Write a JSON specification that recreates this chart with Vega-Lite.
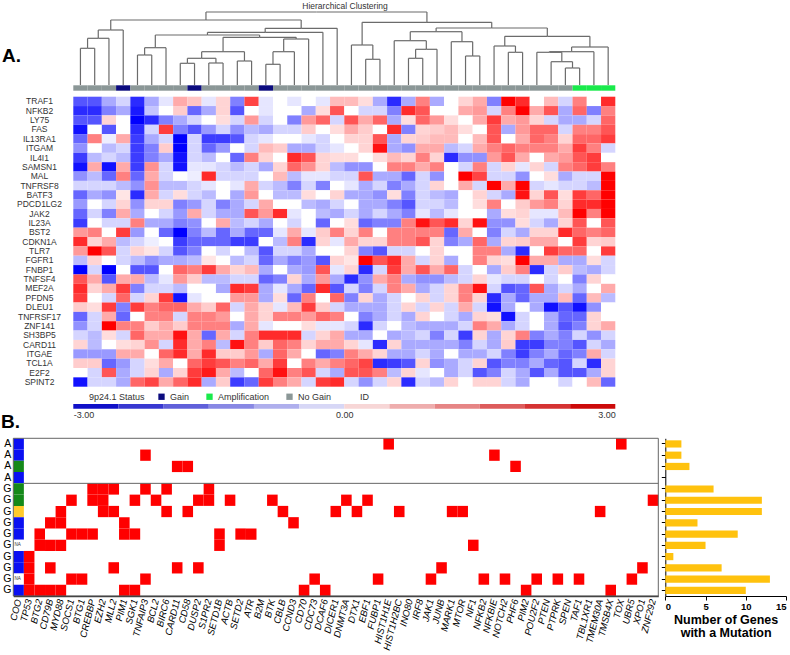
{
"$schema":"https://vega.github.io/schema/vega-lite/v6.json",
"width":790,"height":655,"autosize":{"type":"none"},"padding":0,
"config":{"view":{"stroke":null},"font":"Liberation Sans","axis":{"grid":false}},
"resolve":{"scale":{"x":"independent","y":"independent","color":"independent"}},
"datasets":{
"dendro":[
{"pos":0.5,"ht":0,"ppos":1,"pht":36.7},{"pos":1.5,"ht":0,"ppos":1,"pht":36.7},{"pos":2.5,"ht":0,"ppos":1.75,"pht":46.7},{"pos":3.5,"ht":0,"ppos":2.625,"pht":55},{"pos":4.5,"ht":0,"ppos":5,"pht":30},{"pos":5.5,"ht":0,"ppos":5,"pht":30},{"pos":6.5,"ht":0,"ppos":5.75,"pht":37.3},{"pos":7.5,"ht":0,"ppos":8,"pht":21.7},{"pos":8.5,"ht":0,"ppos":8,"pht":21.7},{"pos":9.5,"ht":0,"ppos":10,"pht":22},{"pos":10.5,"ht":0,"ppos":10,"pht":22},{"pos":11.5,"ht":0,"ppos":12,"pht":24},{"pos":12.5,"ht":0,"ppos":12,"pht":24},{"pos":13.5,"ht":0,"ppos":14,"pht":20.7},{"pos":14.5,"ht":0,"ppos":14,"pht":20.7},{"pos":15.5,"ht":0,"ppos":14.75,"pht":33.3},{"pos":16.5,"ht":0,"ppos":15.625,"pht":46},{"pos":17.5,"ht":0,"ppos":13.453,"pht":52.7},{"pos":18.5,"ht":0,"ppos":15.977,"pht":56.7},{"pos":19.5,"ht":0,"ppos":20.25,"pht":40},{"pos":20.5,"ht":0,"ppos":21,"pht":25.7},{"pos":21.5,"ht":0,"ppos":21,"pht":25.7},{"pos":22.5,"ht":0,"ppos":23.625,"pht":44.3},{"pos":23.5,"ht":0,"ppos":24,"pht":26.7},{"pos":24.5,"ht":0,"ppos":24,"pht":26.7},{"pos":25.5,"ht":0,"ppos":24.75,"pht":35.7},{"pos":26.5,"ht":0,"ppos":27.25,"pht":43.3},{"pos":27.5,"ht":0,"ppos":28,"pht":29},{"pos":28.5,"ht":0,"ppos":28,"pht":29},{"pos":29.5,"ht":0,"ppos":30.25,"pht":39},{"pos":30.5,"ht":0,"ppos":31,"pht":32.7},{"pos":31.5,"ht":0,"ppos":31,"pht":32.7},{"pos":32.5,"ht":0,"ppos":33.375,"pht":32.7},{"pos":33.5,"ht":0,"ppos":34.25,"pht":23.3},{"pos":34.5,"ht":0,"ppos":35,"pht":17},{"pos":35.5,"ht":0,"ppos":35,"pht":17},{"pos":36.5,"ht":0,"ppos":34.938,"pht":33.3},{"pos":37.5,"ht":0,"ppos":36.219,"pht":38},
{"pos":1,"ht":36.7,"ppos":1.75,"pht":46.7},{"pos":1.75,"ht":46.7,"ppos":2.625,"pht":55},{"pos":2.625,"ht":55,"ppos":9.301,"pht":65},{"pos":5,"ht":30,"ppos":5.75,"pht":37.3},{"pos":5.75,"ht":37.3,"ppos":9.406,"pht":50},{"pos":8,"ht":21.7,"ppos":9,"pht":26.7},{"pos":10,"ht":22,"ppos":9,"pht":26.7},{"pos":9,"ht":26.7,"ppos":10.5,"pht":33.3},{"pos":12,"ht":24,"ppos":10.5,"pht":33.3},{"pos":10.5,"ht":33.3,"ppos":13.063,"pht":47.7},{"pos":14,"ht":20.7,"ppos":14.75,"pht":33.3},{"pos":14.75,"ht":33.3,"ppos":15.625,"pht":46},{"pos":15.625,"ht":46,"ppos":13.063,"pht":47.7},{"pos":13.063,"ht":47.7,"ppos":9.406,"pht":50},{"pos":9.406,"ht":50,"ppos":13.453,"pht":52.7},{"pos":13.453,"ht":52.7,"ppos":15.977,"pht":56.7},{"pos":15.977,"ht":56.7,"ppos":9.301,"pht":65},{"pos":9.301,"ht":65,"ppos":17.047,"pht":73},
{"pos":21,"ht":25.7,"ppos":20.25,"pht":40},{"pos":20.25,"ht":40,"ppos":24.793,"pht":62.7},{"pos":24,"ht":26.7,"ppos":24.75,"pht":35.7},{"pos":24.75,"ht":35.7,"ppos":23.625,"pht":44.3},{"pos":23.625,"ht":44.3,"ppos":25.438,"pht":53.3},{"pos":28,"ht":29,"ppos":27.25,"pht":43.3},{"pos":27.25,"ht":43.3,"ppos":25.438,"pht":53.3},{"pos":25.438,"ht":53.3,"ppos":29.336,"pht":57},{"pos":31,"ht":32.7,"ppos":30.25,"pht":39},{"pos":30.25,"ht":39,"ppos":33.234,"pht":48.7},{"pos":35,"ht":17,"ppos":34.25,"pht":23.3},{"pos":34.25,"ht":23.3,"ppos":33.375,"pht":32.7},{"pos":33.375,"ht":32.7,"ppos":34.938,"pht":33.3},{"pos":34.938,"ht":33.3,"ppos":36.219,"pht":38},{"pos":36.219,"ht":38,"ppos":33.234,"pht":48.7},{"pos":33.234,"ht":48.7,"ppos":29.336,"pht":57},{"pos":29.336,"ht":57,"ppos":24.793,"pht":62.7},{"pos":24.793,"ht":62.7,"ppos":17.047,"pht":73}
],
"status":[
{"s":1,"st":"No Gain"},{"s":2,"st":"No Gain"},{"s":3,"st":"No Gain"},{"s":4,"st":"Gain"},{"s":5,"st":"No Gain"},{"s":6,"st":"No Gain"},{"s":7,"st":"No Gain"},{"s":8,"st":"No Gain"},{"s":9,"st":"Gain"},{"s":10,"st":"No Gain"},{"s":11,"st":"No Gain"},{"s":12,"st":"No Gain"},{"s":13,"st":"No Gain"},{"s":14,"st":"Gain"},{"s":15,"st":"No Gain"},{"s":16,"st":"No Gain"},{"s":17,"st":"No Gain"},{"s":18,"st":"No Gain"},{"s":19,"st":"No Gain"},{"s":20,"st":"No Gain"},{"s":21,"st":"No Gain"},{"s":22,"st":"No Gain"},{"s":23,"st":"No Gain"},{"s":24,"st":"No Gain"},{"s":25,"st":"No Gain"},{"s":26,"st":"No Gain"},{"s":27,"st":"No Gain"},{"s":28,"st":"No Gain"},{"s":29,"st":"No Gain"},{"s":30,"st":"No Gain"},{"s":31,"st":"No Gain"},{"s":32,"st":"No Gain"},{"s":33,"st":"No Gain"},{"s":34,"st":"No Gain"},{"s":35,"st":"No Gain"},{"s":36,"st":"Amplification"},{"s":37,"st":"Amplification"},{"s":38,"st":"Amplification"}
],
"cbar":[
{"lo":-3,"hi":-2.5,"lev":-3},{"lo":-2.5,"hi":-2,"lev":-2.5},{"lo":-2,"hi":-1.5,"lev":-2},{"lo":-1.5,"hi":-1,"lev":-1.5},{"lo":-1,"hi":-0.5,"lev":-1},{"lo":-0.5,"hi":0,"lev":-0.5},{"lo":0,"hi":0.5,"lev":0.5},{"lo":0.5,"hi":1,"lev":1},{"lo":1,"hi":1.5,"lev":1.5},{"lo":1.5,"hi":2,"lev":2},{"lo":2,"hi":2.5,"lev":2.5},{"lo":2.5,"hi":3,"lev":3}
],
"coo":[
{"id":"A1","gene":"COO","coo":"GCB"},{"id":"A2","gene":"COO","coo":"GCB"},{"id":"A3","gene":"COO","coo":"ABC"},{"id":"A4","gene":"COO","coo":"GCB"},{"id":"G1","gene":"COO","coo":"ABC"},{"id":"G2","gene":"COO","coo":"ABC"},{"id":"G3","gene":"COO","coo":"Unclassified"},{"id":"G4","gene":"COO","coo":"GCB"},{"id":"G5","gene":"COO","coo":"GCB"},{"id":"G6","gene":"COO","coo":"NA"},{"id":"G7","gene":"COO","coo":"GCB"},{"id":"G8","gene":"COO","coo":"GCB"},{"id":"G9","gene":"COO","coo":"NA"},{"id":"G10","gene":"COO","coo":"GCB"}
],
"mut":[
{"id":"A1","gene":"HIST1H1E"},{"id":"A1","gene":"TOX"},
{"id":"A2","gene":"TNFAIP3"},{"id":"A2","gene":"NFKBIE"},
{"id":"A3","gene":"CARD11"},{"id":"A3","gene":"CD58"},{"id":"A3","gene":"PHF6"},
{"id":"G1","gene":"CREBBP"},{"id":"G1","gene":"EZH2"},{"id":"G1","gene":"MLL2"},{"id":"G1","gene":"TNFAIP3"},{"id":"G1","gene":"BIRC6"},{"id":"G1","gene":"S1PR2"},
{"id":"G2","gene":"SOCS1"},{"id":"G2","gene":"CREBBP"},{"id":"G2","gene":"EZH2"},{"id":"G2","gene":"SGK1"},{"id":"G2","gene":"BCL2"},{"id":"G2","gene":"DUSP2"},{"id":"G2","gene":"S1PR2"},{"id":"G2","gene":"ACTB"},{"id":"G2","gene":"BTK"},{"id":"G2","gene":"DNMT3A"},{"id":"G2","gene":"EBF1"},{"id":"G2","gene":"ZNF292"},
{"id":"G3","gene":"MYD88"},{"id":"G3","gene":"EZH2"},{"id":"G3","gene":"MLL2"},{"id":"G3","gene":"BIRC6"},{"id":"G3","gene":"CD58"},{"id":"G3","gene":"CBLB"},{"id":"G3","gene":"DICER1"},{"id":"G3","gene":"DTX1"},{"id":"G3","gene":"HIST1H2BC"},{"id":"G3","gene":"MARK1"},{"id":"G3","gene":"MTOR"},{"id":"G3","gene":"TMEM30A"},
{"id":"G4","gene":"CD79B"},{"id":"G4","gene":"MYD88"},{"id":"G4","gene":"PIM1"},{"id":"G4","gene":"CCND3"},
{"id":"G5","gene":"BTG2"},{"id":"G5","gene":"SOCS1"},{"id":"G5","gene":"BTG1"},{"id":"G5","gene":"CREBBP"},{"id":"G5","gene":"PIM1"},{"id":"G5","gene":"SGK1"},{"id":"G5","gene":"SETD1B"},{"id":"G5","gene":"SETD2"},{"id":"G5","gene":"ATR"},
{"id":"G6","gene":"BTG2"},{"id":"G6","gene":"CD79B"},{"id":"G6","gene":"MYD88"},{"id":"G6","gene":"SETD1B"},{"id":"G6","gene":"NF1"},
{"id":"G7","gene":"TP53"},
{"id":"G8","gene":"TP53"},{"id":"G8","gene":"CD79B"},{"id":"G8","gene":"MLL2"},{"id":"G8","gene":"CARD11"},{"id":"G8","gene":"DUSP2"},{"id":"G8","gene":"JUNB"},{"id":"G8","gene":"XPO1"},
{"id":"G9","gene":"TP53"},{"id":"G9","gene":"SOCS1"},{"id":"G9","gene":"BTG1"},{"id":"G9","gene":"TNFAIP3"},{"id":"G9","gene":"CDC73"},{"id":"G9","gene":"FUBP1"},{"id":"G9","gene":"JAK1"},{"id":"G9","gene":"NFKB2"},{"id":"G9","gene":"NOTCH2"},{"id":"G9","gene":"POU2F2"},{"id":"G9","gene":"PTPRK"},{"id":"G9","gene":"TAF1"},{"id":"G9","gene":"UBR5"},
{"id":"G10","gene":"TP53"},{"id":"G10","gene":"BTG2"},{"id":"G10","gene":"CD79B"},{"id":"G10","gene":"MYD88"},{"id":"G10","gene":"PIM1"},{"id":"G10","gene":"SGK1"},{"id":"G10","gene":"CD70"},{"id":"G10","gene":"DCAF6"},{"id":"G10","gene":"PIM2"},{"id":"G10","gene":"TMSB4X"}
],
"heat":[
{"g":"TRAF1","s":1,"v":-2},{"g":"TRAF1","s":2,"v":-2},{"g":"TRAF1","s":3,"v":-1},{"g":"TRAF1","s":4,"v":-0.5},{"g":"TRAF1","s":5,"v":-2.5},{"g":"TRAF1","s":6,"v":-1},{"g":"TRAF1","s":7,"v":-0.3},{"g":"TRAF1","s":8,"v":1},{"g":"TRAF1","s":9,"v":0.7},{"g":"TRAF1","s":10,"v":-0.3},{"g":"TRAF1","s":11,"v":0.5},{"g":"TRAF1","s":12,"v":-1.5},{"g":"TRAF1","s":13,"v":2.2},{"g":"TRAF1","s":14,"v":-0.3},{"g":"TRAF1","s":15,"v":0},{"g":"TRAF1","s":16,"v":-0.3},{"g":"TRAF1","s":17,"v":0},{"g":"TRAF1","s":18,"v":-0.3},{"g":"TRAF1","s":19,"v":0.8},{"g":"TRAF1","s":20,"v":0.8},{"g":"TRAF1","s":21,"v":0.4},{"g":"TRAF1","s":22,"v":-1},{"g":"TRAF1","s":23,"v":-2.5},{"g":"TRAF1","s":24,"v":-1},{"g":"TRAF1","s":25,"v":1.5},{"g":"TRAF1","s":26,"v":-1},{"g":"TRAF1","s":27,"v":0},{"g":"TRAF1","s":28,"v":0.5},{"g":"TRAF1","s":29,"v":1},{"g":"TRAF1","s":30,"v":-1.5},{"g":"TRAF1","s":31,"v":3},{"g":"TRAF1","s":32,"v":2.5},{"g":"TRAF1","s":33,"v":0},{"g":"TRAF1","s":34,"v":0.8},{"g":"TRAF1","s":35,"v":-0.5},{"g":"TRAF1","s":36,"v":1.5},{"g":"TRAF1","s":37,"v":0},{"g":"TRAF1","s":38,"v":2.5},
{"g":"NFKB2","s":1,"v":-2.5},{"g":"NFKB2","s":2,"v":-2.5},{"g":"NFKB2","s":3,"v":-1.5},{"g":"NFKB2","s":4,"v":-1},{"g":"NFKB2","s":5,"v":-2.7},{"g":"NFKB2","s":6,"v":-0.7},{"g":"NFKB2","s":7,"v":0},{"g":"NFKB2","s":8,"v":0.6},{"g":"NFKB2","s":9,"v":-1.8},{"g":"NFKB2","s":10,"v":-1},{"g":"NFKB2","s":11,"v":0.5},{"g":"NFKB2","s":12,"v":-2},{"g":"NFKB2","s":13,"v":0},{"g":"NFKB2","s":14,"v":-0.3},{"g":"NFKB2","s":15,"v":0},{"g":"NFKB2","s":16,"v":0},{"g":"NFKB2","s":17,"v":-1},{"g":"NFKB2","s":18,"v":0.4},{"g":"NFKB2","s":19,"v":2},{"g":"NFKB2","s":20,"v":0},{"g":"NFKB2","s":21,"v":-0.5},{"g":"NFKB2","s":22,"v":-0.5},{"g":"NFKB2","s":23,"v":-1.5},{"g":"NFKB2","s":24,"v":2.5},{"g":"NFKB2","s":25,"v":2},{"g":"NFKB2","s":26,"v":0},{"g":"NFKB2","s":27,"v":0},{"g":"NFKB2","s":28,"v":1},{"g":"NFKB2","s":29,"v":1.2},{"g":"NFKB2","s":30,"v":-0.5},{"g":"NFKB2","s":31,"v":1.5},{"g":"NFKB2","s":32,"v":3},{"g":"NFKB2","s":33,"v":1},{"g":"NFKB2","s":34,"v":2},{"g":"NFKB2","s":35,"v":-1},{"g":"NFKB2","s":36,"v":1.8},{"g":"NFKB2","s":37,"v":-1.5},{"g":"NFKB2","s":38,"v":1.5},
{"g":"LY75","s":1,"v":-2},{"g":"LY75","s":2,"v":-2},{"g":"LY75","s":3,"v":0.5},{"g":"LY75","s":4,"v":0},{"g":"LY75","s":5,"v":-3},{"g":"LY75","s":6,"v":-2.5},{"g":"LY75","s":7,"v":-1.5},{"g":"LY75","s":8,"v":-1},{"g":"LY75","s":9,"v":-0.5},{"g":"LY75","s":10,"v":0},{"g":"LY75","s":11,"v":0.4},{"g":"LY75","s":12,"v":-0.5},{"g":"LY75","s":13,"v":1.2},{"g":"LY75","s":14,"v":-0.5},{"g":"LY75","s":15,"v":0},{"g":"LY75","s":16,"v":-1.5},{"g":"LY75","s":17,"v":1.2},{"g":"LY75","s":18,"v":1.8},{"g":"LY75","s":19,"v":-0.5},{"g":"LY75","s":20,"v":2},{"g":"LY75","s":21,"v":1},{"g":"LY75","s":22,"v":1.8},{"g":"LY75","s":23,"v":-1},{"g":"LY75","s":24,"v":0.4},{"g":"LY75","s":25,"v":1.8},{"g":"LY75","s":26,"v":1.2},{"g":"LY75","s":27,"v":0.4},{"g":"LY75","s":28,"v":0},{"g":"LY75","s":29,"v":1},{"g":"LY75","s":30,"v":2.3},{"g":"LY75","s":31,"v":1},{"g":"LY75","s":32,"v":1.2},{"g":"LY75","s":33,"v":0.5},{"g":"LY75","s":34,"v":-0.5},{"g":"LY75","s":35,"v":-1},{"g":"LY75","s":36,"v":-1},{"g":"LY75","s":37,"v":-0.5},{"g":"LY75","s":38,"v":1.8},
{"g":"FAS","s":1,"v":-2.8},{"g":"FAS","s":2,"v":0},{"g":"FAS","s":3,"v":-2},{"g":"FAS","s":4,"v":0},{"g":"FAS","s":5,"v":-2.5},{"g":"FAS","s":6,"v":-0.5},{"g":"FAS","s":7,"v":2.3},{"g":"FAS","s":8,"v":-1.5},{"g":"FAS","s":9,"v":-2},{"g":"FAS","s":10,"v":-1.2},{"g":"FAS","s":11,"v":-0.5},{"g":"FAS","s":12,"v":-1.3},{"g":"FAS","s":13,"v":-0.8},{"g":"FAS","s":14,"v":-1},{"g":"FAS","s":15,"v":-0.5},{"g":"FAS","s":16,"v":-0.5},{"g":"FAS","s":17,"v":0.6},{"g":"FAS","s":18,"v":0},{"g":"FAS","s":19,"v":0.4},{"g":"FAS","s":20,"v":1},{"g":"FAS","s":21,"v":0.6},{"g":"FAS","s":22,"v":0},{"g":"FAS","s":23,"v":2.5},{"g":"FAS","s":24,"v":-1.5},{"g":"FAS","s":25,"v":0.5},{"g":"FAS","s":26,"v":0.6},{"g":"FAS","s":27,"v":0.8},{"g":"FAS","s":28,"v":0.4},{"g":"FAS","s":29,"v":0},{"g":"FAS","s":30,"v":2},{"g":"FAS","s":31,"v":-1},{"g":"FAS","s":32,"v":1.2},{"g":"FAS","s":33,"v":1.8},{"g":"FAS","s":34,"v":1.8},{"g":"FAS","s":35,"v":-0.5},{"g":"FAS","s":36,"v":1.5},{"g":"FAS","s":37,"v":1.5},{"g":"FAS","s":38,"v":2},
{"g":"IL13RA1","s":1,"v":-1.8},{"g":"IL13RA1","s":2,"v":1.5},{"g":"IL13RA1","s":3,"v":-0.2},{"g":"IL13RA1","s":4,"v":1},{"g":"IL13RA1","s":5,"v":-2.3},{"g":"IL13RA1","s":6,"v":-1},{"g":"IL13RA1","s":7,"v":-0.5},{"g":"IL13RA1","s":8,"v":-3},{"g":"IL13RA1","s":9,"v":-0.5},{"g":"IL13RA1","s":10,"v":-2.3},{"g":"IL13RA1","s":11,"v":-2.3},{"g":"IL13RA1","s":12,"v":-2},{"g":"IL13RA1","s":13,"v":-0.5},{"g":"IL13RA1","s":14,"v":-0.3},{"g":"IL13RA1","s":15,"v":0},{"g":"IL13RA1","s":16,"v":0},{"g":"IL13RA1","s":17,"v":-0.3},{"g":"IL13RA1","s":18,"v":-0.5},{"g":"IL13RA1","s":19,"v":0},{"g":"IL13RA1","s":20,"v":0.5},{"g":"IL13RA1","s":21,"v":0.5},{"g":"IL13RA1","s":22,"v":2},{"g":"IL13RA1","s":23,"v":-1},{"g":"IL13RA1","s":24,"v":0.5},{"g":"IL13RA1","s":25,"v":0.6},{"g":"IL13RA1","s":26,"v":0.8},{"g":"IL13RA1","s":27,"v":0.8},{"g":"IL13RA1","s":28,"v":0},{"g":"IL13RA1","s":29,"v":0.8},{"g":"IL13RA1","s":30,"v":2},{"g":"IL13RA1","s":31,"v":0},{"g":"IL13RA1","s":32,"v":1},{"g":"IL13RA1","s":33,"v":1.8},{"g":"IL13RA1","s":34,"v":1.5},{"g":"IL13RA1","s":35,"v":0.5},{"g":"IL13RA1","s":36,"v":1.8},{"g":"IL13RA1","s":37,"v":1.8},{"g":"IL13RA1","s":38,"v":2.3},
{"g":"ITGAM","s":1,"v":-1.3},{"g":"ITGAM","s":2,"v":0},{"g":"ITGAM","s":3,"v":-0.8},{"g":"ITGAM","s":4,"v":-0.5},{"g":"ITGAM","s":5,"v":-2.3},{"g":"ITGAM","s":6,"v":-1.5},{"g":"ITGAM","s":7,"v":0.6},{"g":"ITGAM","s":8,"v":-3},{"g":"ITGAM","s":9,"v":-0.5},{"g":"ITGAM","s":10,"v":-1.8},{"g":"ITGAM","s":11,"v":-1.2},{"g":"ITGAM","s":12,"v":0},{"g":"ITGAM","s":13,"v":-0.5},{"g":"ITGAM","s":14,"v":0.8},{"g":"ITGAM","s":15,"v":0.6},{"g":"ITGAM","s":16,"v":-1},{"g":"ITGAM","s":17,"v":-1},{"g":"ITGAM","s":18,"v":-0.5},{"g":"ITGAM","s":19,"v":-0.3},{"g":"ITGAM","s":20,"v":0},{"g":"ITGAM","s":21,"v":0.5},{"g":"ITGAM","s":22,"v":2.8},{"g":"ITGAM","s":23,"v":-1},{"g":"ITGAM","s":24,"v":-1.3},{"g":"ITGAM","s":25,"v":1},{"g":"ITGAM","s":26,"v":1},{"g":"ITGAM","s":27,"v":-0.8},{"g":"ITGAM","s":28,"v":-0.5},{"g":"ITGAM","s":29,"v":1},{"g":"ITGAM","s":30,"v":1.5},{"g":"ITGAM","s":31,"v":1.8},{"g":"ITGAM","s":32,"v":1.5},{"g":"ITGAM","s":33,"v":1.5},{"g":"ITGAM","s":34,"v":1.5},{"g":"ITGAM","s":35,"v":1},{"g":"ITGAM","s":36,"v":2.3},{"g":"ITGAM","s":37,"v":1.5},{"g":"ITGAM","s":38,"v":-0.5},
{"g":"IL4I1","s":1,"v":-2.3},{"g":"IL4I1","s":2,"v":-0.8},{"g":"IL4I1","s":3,"v":-0.5},{"g":"IL4I1","s":4,"v":-0.8},{"g":"IL4I1","s":5,"v":-2.3},{"g":"IL4I1","s":6,"v":-1.5},{"g":"IL4I1","s":7,"v":-1},{"g":"IL4I1","s":8,"v":-2.8},{"g":"IL4I1","s":9,"v":-0.5},{"g":"IL4I1","s":10,"v":-0.8},{"g":"IL4I1","s":11,"v":0},{"g":"IL4I1","s":12,"v":-1.8},{"g":"IL4I1","s":13,"v":1.5},{"g":"IL4I1","s":14,"v":0.5},{"g":"IL4I1","s":15,"v":0},{"g":"IL4I1","s":16,"v":2.5},{"g":"IL4I1","s":17,"v":2},{"g":"IL4I1","s":18,"v":0.5},{"g":"IL4I1","s":19,"v":0.4},{"g":"IL4I1","s":20,"v":0.4},{"g":"IL4I1","s":21,"v":0},{"g":"IL4I1","s":22,"v":0.4},{"g":"IL4I1","s":23,"v":0.8},{"g":"IL4I1","s":24,"v":0.5},{"g":"IL4I1","s":25,"v":1.5},{"g":"IL4I1","s":26,"v":0.5},{"g":"IL4I1","s":27,"v":-2.5},{"g":"IL4I1","s":28,"v":-1.3},{"g":"IL4I1","s":29,"v":-1.3},{"g":"IL4I1","s":30,"v":1.2},{"g":"IL4I1","s":31,"v":2},{"g":"IL4I1","s":32,"v":1},{"g":"IL4I1","s":33,"v":0},{"g":"IL4I1","s":34,"v":1},{"g":"IL4I1","s":35,"v":1.2},{"g":"IL4I1","s":36,"v":2},{"g":"IL4I1","s":37,"v":2.3},{"g":"IL4I1","s":38,"v":0},
{"g":"SAMSN1","s":1,"v":-2.8},{"g":"SAMSN1","s":2,"v":1},{"g":"SAMSN1","s":3,"v":-2.8},{"g":"SAMSN1","s":4,"v":1},{"g":"SAMSN1","s":5,"v":-2.3},{"g":"SAMSN1","s":6,"v":1.3},{"g":"SAMSN1","s":7,"v":-0.5},{"g":"SAMSN1","s":8,"v":-2.8},{"g":"SAMSN1","s":9,"v":-0.3},{"g":"SAMSN1","s":10,"v":-0.3},{"g":"SAMSN1","s":11,"v":-0.5},{"g":"SAMSN1","s":12,"v":-0.8},{"g":"SAMSN1","s":13,"v":-0.5},{"g":"SAMSN1","s":14,"v":-1},{"g":"SAMSN1","s":15,"v":0.5},{"g":"SAMSN1","s":16,"v":1.8},{"g":"SAMSN1","s":17,"v":1.3},{"g":"SAMSN1","s":18,"v":0.5},{"g":"SAMSN1","s":19,"v":-0.8},{"g":"SAMSN1","s":20,"v":-1.3},{"g":"SAMSN1","s":21,"v":-1.3},{"g":"SAMSN1","s":22,"v":0},{"g":"SAMSN1","s":23,"v":1.5},{"g":"SAMSN1","s":24,"v":1.5},{"g":"SAMSN1","s":25,"v":1},{"g":"SAMSN1","s":26,"v":1.5},{"g":"SAMSN1","s":27,"v":0},{"g":"SAMSN1","s":28,"v":-0.5},{"g":"SAMSN1","s":29,"v":1.5},{"g":"SAMSN1","s":30,"v":-0.5},{"g":"SAMSN1","s":31,"v":0.5},{"g":"SAMSN1","s":32,"v":-0.3},{"g":"SAMSN1","s":33,"v":0.5},{"g":"SAMSN1","s":34,"v":-0.5},{"g":"SAMSN1","s":35,"v":1.5},{"g":"SAMSN1","s":36,"v":1.8},{"g":"SAMSN1","s":37,"v":2.3},{"g":"SAMSN1","s":38,"v":1.5},
{"g":"MAL","s":1,"v":-1.3},{"g":"MAL","s":2,"v":-0.8},{"g":"MAL","s":3,"v":-1.8},{"g":"MAL","s":4,"v":1.5},{"g":"MAL","s":5,"v":-1.8},{"g":"MAL","s":6,"v":1},{"g":"MAL","s":7,"v":-0.5},{"g":"MAL","s":8,"v":0},{"g":"MAL","s":9,"v":-0.2},{"g":"MAL","s":10,"v":2.5},{"g":"MAL","s":11,"v":-0.5},{"g":"MAL","s":12,"v":-0.5},{"g":"MAL","s":13,"v":-0.5},{"g":"MAL","s":14,"v":0},{"g":"MAL","s":15,"v":0.8},{"g":"MAL","s":16,"v":-0.8},{"g":"MAL","s":17,"v":-0.3},{"g":"MAL","s":18,"v":-0.3},{"g":"MAL","s":19,"v":-0.5},{"g":"MAL","s":20,"v":-0.5},{"g":"MAL","s":21,"v":2},{"g":"MAL","s":22,"v":-1},{"g":"MAL","s":23,"v":-1},{"g":"MAL","s":24,"v":-1.8},{"g":"MAL","s":25,"v":-0.5},{"g":"MAL","s":26,"v":-1.3},{"g":"MAL","s":27,"v":0},{"g":"MAL","s":28,"v":3},{"g":"MAL","s":29,"v":2.2},{"g":"MAL","s":30,"v":-0.5},{"g":"MAL","s":31,"v":-0.5},{"g":"MAL","s":32,"v":-1.3},{"g":"MAL","s":33,"v":0},{"g":"MAL","s":34,"v":0.4},{"g":"MAL","s":35,"v":-1},{"g":"MAL","s":36,"v":-0.5},{"g":"MAL","s":37,"v":-0.5},{"g":"MAL","s":38,"v":3},
{"g":"TNFRSF8","s":1,"v":-0.5},{"g":"TNFRSF8","s":2,"v":-0.5},{"g":"TNFRSF8","s":3,"v":-0.5},{"g":"TNFRSF8","s":4,"v":-0.8},{"g":"TNFRSF8","s":5,"v":-1.3},{"g":"TNFRSF8","s":6,"v":1.3},{"g":"TNFRSF8","s":7,"v":-0.8},{"g":"TNFRSF8","s":8,"v":-0.8},{"g":"TNFRSF8","s":9,"v":-0.5},{"g":"TNFRSF8","s":10,"v":-0.3},{"g":"TNFRSF8","s":11,"v":0},{"g":"TNFRSF8","s":12,"v":-0.3},{"g":"TNFRSF8","s":13,"v":1},{"g":"TNFRSF8","s":14,"v":-0.5},{"g":"TNFRSF8","s":15,"v":-0.8},{"g":"TNFRSF8","s":16,"v":-1.5},{"g":"TNFRSF8","s":17,"v":-0.5},{"g":"TNFRSF8","s":18,"v":-1.5},{"g":"TNFRSF8","s":19,"v":0},{"g":"TNFRSF8","s":20,"v":-0.3},{"g":"TNFRSF8","s":21,"v":-1},{"g":"TNFRSF8","s":22,"v":-0.5},{"g":"TNFRSF8","s":23,"v":-1.5},{"g":"TNFRSF8","s":24,"v":-1},{"g":"TNFRSF8","s":25,"v":-0.5},{"g":"TNFRSF8","s":26,"v":0.5},{"g":"TNFRSF8","s":27,"v":0},{"g":"TNFRSF8","s":28,"v":1},{"g":"TNFRSF8","s":29,"v":-0.5},{"g":"TNFRSF8","s":30,"v":3},{"g":"TNFRSF8","s":31,"v":1},{"g":"TNFRSF8","s":32,"v":3},{"g":"TNFRSF8","s":33,"v":-0.5},{"g":"TNFRSF8","s":34,"v":-0.3},{"g":"TNFRSF8","s":35,"v":-0.5},{"g":"TNFRSF8","s":36,"v":-0.5},{"g":"TNFRSF8","s":37,"v":-0.8},{"g":"TNFRSF8","s":38,"v":3},
{"g":"BATF3","s":1,"v":-1.8},{"g":"BATF3","s":2,"v":-1},{"g":"BATF3","s":3,"v":-1.3},{"g":"BATF3","s":4,"v":0.3},{"g":"BATF3","s":5,"v":-2.5},{"g":"BATF3","s":6,"v":1},{"g":"BATF3","s":7,"v":-0.5},{"g":"BATF3","s":8,"v":0.4},{"g":"BATF3","s":9,"v":-0.5},{"g":"BATF3","s":10,"v":-0.8},{"g":"BATF3","s":11,"v":0},{"g":"BATF3","s":12,"v":-1},{"g":"BATF3","s":13,"v":1.2},{"g":"BATF3","s":14,"v":0},{"g":"BATF3","s":15,"v":-0.8},{"g":"BATF3","s":16,"v":-0.8},{"g":"BATF3","s":17,"v":0.4},{"g":"BATF3","s":18,"v":0},{"g":"BATF3","s":19,"v":0.5},{"g":"BATF3","s":20,"v":-1},{"g":"BATF3","s":21,"v":-1},{"g":"BATF3","s":22,"v":-1.3},{"g":"BATF3","s":23,"v":0.4},{"g":"BATF3","s":24,"v":-1.5},{"g":"BATF3","s":25,"v":-0.5},{"g":"BATF3","s":26,"v":-0.8},{"g":"BATF3","s":27,"v":-1},{"g":"BATF3","s":28,"v":0},{"g":"BATF3","s":29,"v":0.5},{"g":"BATF3","s":30,"v":-0.5},{"g":"BATF3","s":31,"v":-1},{"g":"BATF3","s":32,"v":2.8},{"g":"BATF3","s":33,"v":0.5},{"g":"BATF3","s":34,"v":2},{"g":"BATF3","s":35,"v":0.4},{"g":"BATF3","s":36,"v":2.3},{"g":"BATF3","s":37,"v":1.8},{"g":"BATF3","s":38,"v":3},
{"g":"PDCD1LG2","s":1,"v":-1.2},{"g":"PDCD1LG2","s":2,"v":0},{"g":"PDCD1LG2","s":3,"v":-0.5},{"g":"PDCD1LG2","s":4,"v":0.5},{"g":"PDCD1LG2","s":5,"v":-1.3},{"g":"PDCD1LG2","s":6,"v":0.5},{"g":"PDCD1LG2","s":7,"v":0.5},{"g":"PDCD1LG2","s":8,"v":-1.5},{"g":"PDCD1LG2","s":9,"v":-1.2},{"g":"PDCD1LG2","s":10,"v":-0.5},{"g":"PDCD1LG2","s":11,"v":-1.5},{"g":"PDCD1LG2","s":12,"v":-1},{"g":"PDCD1LG2","s":13,"v":-0.5},{"g":"PDCD1LG2","s":14,"v":1},{"g":"PDCD1LG2","s":15,"v":0},{"g":"PDCD1LG2","s":16,"v":0},{"g":"PDCD1LG2","s":17,"v":-0.8},{"g":"PDCD1LG2","s":18,"v":-1},{"g":"PDCD1LG2","s":19,"v":-0.5},{"g":"PDCD1LG2","s":20,"v":0},{"g":"PDCD1LG2","s":21,"v":-1},{"g":"PDCD1LG2","s":22,"v":-1},{"g":"PDCD1LG2","s":23,"v":-1.5},{"g":"PDCD1LG2","s":24,"v":-2},{"g":"PDCD1LG2","s":25,"v":-0.5},{"g":"PDCD1LG2","s":26,"v":-0.5},{"g":"PDCD1LG2","s":27,"v":-0.8},{"g":"PDCD1LG2","s":28,"v":0},{"g":"PDCD1LG2","s":29,"v":0.4},{"g":"PDCD1LG2","s":30,"v":1.5},{"g":"PDCD1LG2","s":31,"v":0},{"g":"PDCD1LG2","s":32,"v":0.6},{"g":"PDCD1LG2","s":33,"v":1.2},{"g":"PDCD1LG2","s":34,"v":1.5},{"g":"PDCD1LG2","s":35,"v":0.5},{"g":"PDCD1LG2","s":36,"v":2.5},{"g":"PDCD1LG2","s":37,"v":2.5},{"g":"PDCD1LG2","s":38,"v":3},
{"g":"JAK2","s":1,"v":-1.8},{"g":"JAK2","s":2,"v":-0.5},{"g":"JAK2","s":3,"v":-1.5},{"g":"JAK2","s":4,"v":1},{"g":"JAK2","s":5,"v":-1},{"g":"JAK2","s":6,"v":0},{"g":"JAK2","s":7,"v":-0.5},{"g":"JAK2","s":8,"v":-1.2},{"g":"JAK2","s":9,"v":1},{"g":"JAK2","s":10,"v":-0.5},{"g":"JAK2","s":11,"v":-1},{"g":"JAK2","s":12,"v":-1},{"g":"JAK2","s":13,"v":2},{"g":"JAK2","s":14,"v":1.2},{"g":"JAK2","s":15,"v":2.5},{"g":"JAK2","s":16,"v":-0.3},{"g":"JAK2","s":17,"v":0},{"g":"JAK2","s":18,"v":-0.8},{"g":"JAK2","s":19,"v":-1},{"g":"JAK2","s":20,"v":-0.5},{"g":"JAK2","s":21,"v":-1},{"g":"JAK2","s":22,"v":-0.5},{"g":"JAK2","s":23,"v":-1},{"g":"JAK2","s":24,"v":-1.5},{"g":"JAK2","s":25,"v":-0.3},{"g":"JAK2","s":26,"v":-0.8},{"g":"JAK2","s":27,"v":-0.3},{"g":"JAK2","s":28,"v":0},{"g":"JAK2","s":29,"v":0},{"g":"JAK2","s":30,"v":-1},{"g":"JAK2","s":31,"v":0.4},{"g":"JAK2","s":32,"v":0.5},{"g":"JAK2","s":33,"v":-0.3},{"g":"JAK2","s":34,"v":-0.3},{"g":"JAK2","s":35,"v":0.8},{"g":"JAK2","s":36,"v":3},{"g":"JAK2","s":37,"v":1.5},{"g":"JAK2","s":38,"v":3},
{"g":"IL23A","s":1,"v":-2.3},{"g":"IL23A","s":2,"v":0},{"g":"IL23A","s":3,"v":-0.5},{"g":"IL23A","s":4,"v":-0.5},{"g":"IL23A","s":5,"v":1.5},{"g":"IL23A","s":6,"v":-1},{"g":"IL23A","s":7,"v":-1},{"g":"IL23A","s":8,"v":-1.5},{"g":"IL23A","s":9,"v":-1.3},{"g":"IL23A","s":10,"v":0},{"g":"IL23A","s":11,"v":1},{"g":"IL23A","s":12,"v":-0.8},{"g":"IL23A","s":13,"v":-0.5},{"g":"IL23A","s":14,"v":-1},{"g":"IL23A","s":15,"v":0},{"g":"IL23A","s":16,"v":-0.5},{"g":"IL23A","s":17,"v":0},{"g":"IL23A","s":18,"v":-1.8},{"g":"IL23A","s":19,"v":0},{"g":"IL23A","s":20,"v":0.4},{"g":"IL23A","s":21,"v":-1.8},{"g":"IL23A","s":22,"v":-1.5},{"g":"IL23A","s":23,"v":-1.5},{"g":"IL23A","s":24,"v":1.5},{"g":"IL23A","s":25,"v":2.8},{"g":"IL23A","s":26,"v":2},{"g":"IL23A","s":27,"v":2.5},{"g":"IL23A","s":28,"v":0.5},{"g":"IL23A","s":29,"v":2.8},{"g":"IL23A","s":30,"v":-1.3},{"g":"IL23A","s":31,"v":-1.3},{"g":"IL23A","s":32,"v":0.4},{"g":"IL23A","s":33,"v":-0.5},{"g":"IL23A","s":34,"v":-1},{"g":"IL23A","s":35,"v":0.5},{"g":"IL23A","s":36,"v":2},{"g":"IL23A","s":37,"v":0},{"g":"IL23A","s":38,"v":2},
{"g":"BST2","s":1,"v":1.2},{"g":"BST2","s":2,"v":1.5},{"g":"BST2","s":3,"v":0},{"g":"BST2","s":4,"v":2.3},{"g":"BST2","s":5,"v":-1.2},{"g":"BST2","s":6,"v":0},{"g":"BST2","s":7,"v":-1.8},{"g":"BST2","s":8,"v":-3},{"g":"BST2","s":9,"v":-1.5},{"g":"BST2","s":10,"v":-0.8},{"g":"BST2","s":11,"v":-1.8},{"g":"BST2","s":12,"v":-1},{"g":"BST2","s":13,"v":-1.8},{"g":"BST2","s":14,"v":-1.8},{"g":"BST2","s":15,"v":-0.3},{"g":"BST2","s":16,"v":1},{"g":"BST2","s":17,"v":-0.3},{"g":"BST2","s":18,"v":0.6},{"g":"BST2","s":19,"v":1.5},{"g":"BST2","s":20,"v":0.5},{"g":"BST2","s":21,"v":1.5},{"g":"BST2","s":22,"v":0},{"g":"BST2","s":23,"v":1.5},{"g":"BST2","s":24,"v":1.5},{"g":"BST2","s":25,"v":1.5},{"g":"BST2","s":26,"v":1.5},{"g":"BST2","s":27,"v":-1.8},{"g":"BST2","s":28,"v":1},{"g":"BST2","s":29,"v":0},{"g":"BST2","s":30,"v":-1.5},{"g":"BST2","s":31,"v":-0.5},{"g":"BST2","s":32,"v":-1},{"g":"BST2","s":33,"v":0.5},{"g":"BST2","s":34,"v":0.5},{"g":"BST2","s":35,"v":2.5},{"g":"BST2","s":36,"v":1.8},{"g":"BST2","s":37,"v":1.5},{"g":"BST2","s":38,"v":1.8},
{"g":"CDKN1A","s":1,"v":2.5},{"g":"CDKN1A","s":2,"v":0.5},{"g":"CDKN1A","s":3,"v":1},{"g":"CDKN1A","s":4,"v":-0.8},{"g":"CDKN1A","s":5,"v":-0.5},{"g":"CDKN1A","s":6,"v":-0.2},{"g":"CDKN1A","s":7,"v":0},{"g":"CDKN1A","s":8,"v":-2.3},{"g":"CDKN1A","s":9,"v":-1.8},{"g":"CDKN1A","s":10,"v":-1.8},{"g":"CDKN1A","s":11,"v":-1.8},{"g":"CDKN1A","s":12,"v":-2.3},{"g":"CDKN1A","s":13,"v":-2.3},{"g":"CDKN1A","s":14,"v":0},{"g":"CDKN1A","s":15,"v":-0.8},{"g":"CDKN1A","s":16,"v":1.5},{"g":"CDKN1A","s":17,"v":-2.5},{"g":"CDKN1A","s":18,"v":0.5},{"g":"CDKN1A","s":19,"v":-0.3},{"g":"CDKN1A","s":20,"v":1},{"g":"CDKN1A","s":21,"v":0.5},{"g":"CDKN1A","s":22,"v":0.5},{"g":"CDKN1A","s":23,"v":1.5},{"g":"CDKN1A","s":24,"v":1.5},{"g":"CDKN1A","s":25,"v":2},{"g":"CDKN1A","s":26,"v":0.5},{"g":"CDKN1A","s":27,"v":-1.5},{"g":"CDKN1A","s":28,"v":-1},{"g":"CDKN1A","s":29,"v":1.8},{"g":"CDKN1A","s":30,"v":-1},{"g":"CDKN1A","s":31,"v":0.5},{"g":"CDKN1A","s":32,"v":0.6},{"g":"CDKN1A","s":33,"v":1},{"g":"CDKN1A","s":34,"v":1},{"g":"CDKN1A","s":35,"v":0},{"g":"CDKN1A","s":36,"v":2.3},{"g":"CDKN1A","s":37,"v":0.5},{"g":"CDKN1A","s":38,"v":0.6},
{"g":"TLR7","s":1,"v":1.2},{"g":"TLR7","s":2,"v":3},{"g":"TLR7","s":3,"v":2},{"g":"TLR7","s":4,"v":-0.5},{"g":"TLR7","s":5,"v":0.5},{"g":"TLR7","s":6,"v":0.3},{"g":"TLR7","s":7,"v":-0.5},{"g":"TLR7","s":8,"v":-2},{"g":"TLR7","s":9,"v":-1.5},{"g":"TLR7","s":10,"v":0},{"g":"TLR7","s":11,"v":-0.5},{"g":"TLR7","s":12,"v":0},{"g":"TLR7","s":13,"v":-0.8},{"g":"TLR7","s":14,"v":-2},{"g":"TLR7","s":15,"v":-0.5},{"g":"TLR7","s":16,"v":-0.5},{"g":"TLR7","s":17,"v":-1},{"g":"TLR7","s":18,"v":0},{"g":"TLR7","s":19,"v":0},{"g":"TLR7","s":20,"v":0.5},{"g":"TLR7","s":21,"v":-1.5},{"g":"TLR7","s":22,"v":-2},{"g":"TLR7","s":23,"v":-0.5},{"g":"TLR7","s":24,"v":-0.5},{"g":"TLR7","s":25,"v":0},{"g":"TLR7","s":26,"v":0.5},{"g":"TLR7","s":27,"v":0},{"g":"TLR7","s":28,"v":0},{"g":"TLR7","s":29,"v":1.5},{"g":"TLR7","s":30,"v":1.5},{"g":"TLR7","s":31,"v":-1},{"g":"TLR7","s":32,"v":-2.5},{"g":"TLR7","s":33,"v":0},{"g":"TLR7","s":34,"v":2.3},{"g":"TLR7","s":35,"v":1.8},{"g":"TLR7","s":36,"v":1.8},{"g":"TLR7","s":37,"v":0},{"g":"TLR7","s":38,"v":2.3},
{"g":"FGFR1","s":1,"v":-0.8},{"g":"FGFR1","s":2,"v":0.5},{"g":"FGFR1","s":3,"v":0},{"g":"FGFR1","s":4,"v":-0.5},{"g":"FGFR1","s":5,"v":-0.8},{"g":"FGFR1","s":6,"v":-1.3},{"g":"FGFR1","s":7,"v":-1},{"g":"FGFR1","s":8,"v":-1},{"g":"FGFR1","s":9,"v":-0.8},{"g":"FGFR1","s":10,"v":0.3},{"g":"FGFR1","s":11,"v":0},{"g":"FGFR1","s":12,"v":-0.8},{"g":"FGFR1","s":13,"v":-0.5},{"g":"FGFR1","s":14,"v":-1.8},{"g":"FGFR1","s":15,"v":-1},{"g":"FGFR1","s":16,"v":-1.5},{"g":"FGFR1","s":17,"v":-1.2},{"g":"FGFR1","s":18,"v":-2},{"g":"FGFR1","s":19,"v":0.5},{"g":"FGFR1","s":20,"v":0.3},{"g":"FGFR1","s":21,"v":3},{"g":"FGFR1","s":22,"v":2},{"g":"FGFR1","s":23,"v":2.5},{"g":"FGFR1","s":24,"v":1},{"g":"FGFR1","s":25,"v":-0.5},{"g":"FGFR1","s":26,"v":0.5},{"g":"FGFR1","s":27,"v":-1},{"g":"FGFR1","s":28,"v":0},{"g":"FGFR1","s":29,"v":1.5},{"g":"FGFR1","s":30,"v":0.5},{"g":"FGFR1","s":31,"v":0.4},{"g":"FGFR1","s":32,"v":3},{"g":"FGFR1","s":33,"v":1},{"g":"FGFR1","s":34,"v":1},{"g":"FGFR1","s":35,"v":-1},{"g":"FGFR1","s":36,"v":-1},{"g":"FGFR1","s":37,"v":0.4},{"g":"FGFR1","s":38,"v":-0.5},
{"g":"FNBP1","s":1,"v":-3},{"g":"FNBP1","s":2,"v":-0.5},{"g":"FNBP1","s":3,"v":-3},{"g":"FNBP1","s":4,"v":0},{"g":"FNBP1","s":5,"v":-2},{"g":"FNBP1","s":6,"v":-2},{"g":"FNBP1","s":7,"v":0},{"g":"FNBP1","s":8,"v":1.8},{"g":"FNBP1","s":9,"v":1.5},{"g":"FNBP1","s":10,"v":2.3},{"g":"FNBP1","s":11,"v":1},{"g":"FNBP1","s":12,"v":0.5},{"g":"FNBP1","s":13,"v":0.8},{"g":"FNBP1","s":14,"v":-1},{"g":"FNBP1","s":15,"v":0},{"g":"FNBP1","s":16,"v":-1},{"g":"FNBP1","s":17,"v":-1.2},{"g":"FNBP1","s":18,"v":2},{"g":"FNBP1","s":19,"v":-0.3},{"g":"FNBP1","s":20,"v":0.5},{"g":"FNBP1","s":21,"v":-2.5},{"g":"FNBP1","s":22,"v":-0.5},{"g":"FNBP1","s":23,"v":2.3},{"g":"FNBP1","s":24,"v":1},{"g":"FNBP1","s":25,"v":2},{"g":"FNBP1","s":26,"v":1},{"g":"FNBP1","s":27,"v":1.8},{"g":"FNBP1","s":28,"v":-0.5},{"g":"FNBP1","s":29,"v":0},{"g":"FNBP1","s":30,"v":-1},{"g":"FNBP1","s":31,"v":0.6},{"g":"FNBP1","s":32,"v":1.5},{"g":"FNBP1","s":33,"v":-2.5},{"g":"FNBP1","s":34,"v":-0.5},{"g":"FNBP1","s":35,"v":0.6},{"g":"FNBP1","s":36,"v":-0.8},{"g":"FNBP1","s":37,"v":-1},{"g":"FNBP1","s":38,"v":-0.5},
{"g":"TNFSF4","s":1,"v":2},{"g":"TNFSF4","s":2,"v":1},{"g":"TNFSF4","s":3,"v":-2},{"g":"TNFSF4","s":4,"v":1},{"g":"TNFSF4","s":5,"v":1},{"g":"TNFSF4","s":6,"v":-0.8},{"g":"TNFSF4","s":7,"v":-0.3},{"g":"TNFSF4","s":8,"v":1.2},{"g":"TNFSF4","s":9,"v":0.6},{"g":"TNFSF4","s":10,"v":-0.8},{"g":"TNFSF4","s":11,"v":-0.8},{"g":"TNFSF4","s":12,"v":-0.5},{"g":"TNFSF4","s":13,"v":-0.5},{"g":"TNFSF4","s":14,"v":-1.8},{"g":"TNFSF4","s":15,"v":-1.5},{"g":"TNFSF4","s":16,"v":0.5},{"g":"TNFSF4","s":17,"v":-1},{"g":"TNFSF4","s":18,"v":1.2},{"g":"TNFSF4","s":19,"v":-1},{"g":"TNFSF4","s":20,"v":-2.5},{"g":"TNFSF4","s":21,"v":-1.3},{"g":"TNFSF4","s":22,"v":1},{"g":"TNFSF4","s":23,"v":1.5},{"g":"TNFSF4","s":24,"v":-1},{"g":"TNFSF4","s":25,"v":-1.3},{"g":"TNFSF4","s":26,"v":-1.3},{"g":"TNFSF4","s":27,"v":-0.8},{"g":"TNFSF4","s":28,"v":-0.5},{"g":"TNFSF4","s":29,"v":0.5},{"g":"TNFSF4","s":30,"v":-0.3},{"g":"TNFSF4","s":31,"v":-0.5},{"g":"TNFSF4","s":32,"v":-0.5},{"g":"TNFSF4","s":33,"v":0},{"g":"TNFSF4","s":34,"v":-0.5},{"g":"TNFSF4","s":35,"v":0},{"g":"TNFSF4","s":36,"v":-1.5},{"g":"TNFSF4","s":37,"v":0.5},{"g":"TNFSF4","s":38,"v":0},
{"g":"MEF2A","s":1,"v":2.5},{"g":"MEF2A","s":2,"v":0.5},{"g":"MEF2A","s":3,"v":1},{"g":"MEF2A","s":4,"v":2.3},{"g":"MEF2A","s":5,"v":-1.5},{"g":"MEF2A","s":6,"v":-0.5},{"g":"MEF2A","s":7,"v":-0.5},{"g":"MEF2A","s":8,"v":-0.8},{"g":"MEF2A","s":9,"v":0},{"g":"MEF2A","s":10,"v":0},{"g":"MEF2A","s":11,"v":-1},{"g":"MEF2A","s":12,"v":2.5},{"g":"MEF2A","s":13,"v":2.3},{"g":"MEF2A","s":14,"v":-1},{"g":"MEF2A","s":15,"v":-0.3},{"g":"MEF2A","s":16,"v":-1},{"g":"MEF2A","s":17,"v":-1.8},{"g":"MEF2A","s":18,"v":2.5},{"g":"MEF2A","s":19,"v":-2},{"g":"MEF2A","s":20,"v":-0.5},{"g":"MEF2A","s":21,"v":-1.5},{"g":"MEF2A","s":22,"v":-0.5},{"g":"MEF2A","s":23,"v":1.5},{"g":"MEF2A","s":24,"v":1},{"g":"MEF2A","s":25,"v":-1},{"g":"MEF2A","s":26,"v":-0.5},{"g":"MEF2A","s":27,"v":0.5},{"g":"MEF2A","s":28,"v":1.5},{"g":"MEF2A","s":29,"v":2.8},{"g":"MEF2A","s":30,"v":-0.5},{"g":"MEF2A","s":31,"v":-2},{"g":"MEF2A","s":32,"v":-1.8},{"g":"MEF2A","s":33,"v":2},{"g":"MEF2A","s":34,"v":-1},{"g":"MEF2A","s":35,"v":-0.5},{"g":"MEF2A","s":36,"v":-1},{"g":"MEF2A","s":37,"v":0},{"g":"MEF2A","s":38,"v":1},
{"g":"PFDN5","s":1,"v":2.3},{"g":"PFDN5","s":2,"v":0},{"g":"PFDN5","s":3,"v":-0.5},{"g":"PFDN5","s":4,"v":1.8},{"g":"PFDN5","s":5,"v":-0.5},{"g":"PFDN5","s":6,"v":0.5},{"g":"PFDN5","s":7,"v":2.3},{"g":"PFDN5","s":8,"v":-2.8},{"g":"PFDN5","s":9,"v":-0.3},{"g":"PFDN5","s":10,"v":0},{"g":"PFDN5","s":11,"v":0},{"g":"PFDN5","s":12,"v":1.2},{"g":"PFDN5","s":13,"v":1.2},{"g":"PFDN5","s":14,"v":-1},{"g":"PFDN5","s":15,"v":0.4},{"g":"PFDN5","s":16,"v":-1.8},{"g":"PFDN5","s":17,"v":1.5},{"g":"PFDN5","s":18,"v":0},{"g":"PFDN5","s":19,"v":1.8},{"g":"PFDN5","s":20,"v":-1.5},{"g":"PFDN5","s":21,"v":0.5},{"g":"PFDN5","s":22,"v":-1},{"g":"PFDN5","s":23,"v":-0.5},{"g":"PFDN5","s":24,"v":0},{"g":"PFDN5","s":25,"v":0.5},{"g":"PFDN5","s":26,"v":-0.5},{"g":"PFDN5","s":27,"v":0.5},{"g":"PFDN5","s":28,"v":1.5},{"g":"PFDN5","s":29,"v":0.5},{"g":"PFDN5","s":30,"v":-2.5},{"g":"PFDN5","s":31,"v":-1},{"g":"PFDN5","s":32,"v":-1.8},{"g":"PFDN5","s":33,"v":-1},{"g":"PFDN5","s":34,"v":-1},{"g":"PFDN5","s":35,"v":0.8},{"g":"PFDN5","s":36,"v":-1.8},{"g":"PFDN5","s":37,"v":0.8},{"g":"PFDN5","s":38,"v":-0.8},
{"g":"DLEU1","s":1,"v":0.6},{"g":"DLEU1","s":2,"v":0.4},{"g":"DLEU1","s":3,"v":2.3},{"g":"DLEU1","s":4,"v":-1.5},{"g":"DLEU1","s":5,"v":2.3},{"g":"DLEU1","s":6,"v":1.5},{"g":"DLEU1","s":7,"v":1.8},{"g":"DLEU1","s":8,"v":1.8},{"g":"DLEU1","s":9,"v":1},{"g":"DLEU1","s":10,"v":0.6},{"g":"DLEU1","s":11,"v":1.8},{"g":"DLEU1","s":12,"v":-0.5},{"g":"DLEU1","s":13,"v":1},{"g":"DLEU1","s":14,"v":0.5},{"g":"DLEU1","s":15,"v":-0.3},{"g":"DLEU1","s":16,"v":0.8},{"g":"DLEU1","s":17,"v":2.3},{"g":"DLEU1","s":18,"v":0.6},{"g":"DLEU1","s":19,"v":-0.5},{"g":"DLEU1","s":20,"v":-1},{"g":"DLEU1","s":21,"v":-1},{"g":"DLEU1","s":22,"v":-1},{"g":"DLEU1","s":23,"v":-0.5},{"g":"DLEU1","s":24,"v":0.5},{"g":"DLEU1","s":25,"v":-0.5},{"g":"DLEU1","s":26,"v":0.5},{"g":"DLEU1","s":27,"v":-0.5},{"g":"DLEU1","s":28,"v":1},{"g":"DLEU1","s":29,"v":-0.5},{"g":"DLEU1","s":30,"v":-2.8},{"g":"DLEU1","s":31,"v":-1},{"g":"DLEU1","s":32,"v":0},{"g":"DLEU1","s":33,"v":-1},{"g":"DLEU1","s":34,"v":-2.8},{"g":"DLEU1","s":35,"v":-2},{"g":"DLEU1","s":36,"v":-2.8},{"g":"DLEU1","s":37,"v":-1.3},{"g":"DLEU1","s":38,"v":0},
{"g":"TNFRSF17","s":1,"v":-1.8},{"g":"TNFRSF17","s":2,"v":-0.5},{"g":"TNFRSF17","s":3,"v":1},{"g":"TNFRSF17","s":4,"v":-1.8},{"g":"TNFRSF17","s":5,"v":0},{"g":"TNFRSF17","s":6,"v":1.5},{"g":"TNFRSF17","s":7,"v":1.5},{"g":"TNFRSF17","s":8,"v":-0.5},{"g":"TNFRSF17","s":9,"v":1.5},{"g":"TNFRSF17","s":10,"v":1.5},{"g":"TNFRSF17","s":11,"v":1.2},{"g":"TNFRSF17","s":12,"v":0},{"g":"TNFRSF17","s":13,"v":1},{"g":"TNFRSF17","s":14,"v":0.5},{"g":"TNFRSF17","s":15,"v":1.5},{"g":"TNFRSF17","s":16,"v":1.5},{"g":"TNFRSF17","s":17,"v":1.2},{"g":"TNFRSF17","s":18,"v":1.8},{"g":"TNFRSF17","s":19,"v":1.5},{"g":"TNFRSF17","s":20,"v":0},{"g":"TNFRSF17","s":21,"v":-1.5},{"g":"TNFRSF17","s":22,"v":-1},{"g":"TNFRSF17","s":23,"v":-0.5},{"g":"TNFRSF17","s":24,"v":-1},{"g":"TNFRSF17","s":25,"v":0.5},{"g":"TNFRSF17","s":26,"v":0},{"g":"TNFRSF17","s":27,"v":-0.5},{"g":"TNFRSF17","s":28,"v":-1},{"g":"TNFRSF17","s":29,"v":0.5},{"g":"TNFRSF17","s":30,"v":0.4},{"g":"TNFRSF17","s":31,"v":-2.8},{"g":"TNFRSF17","s":32,"v":-0.5},{"g":"TNFRSF17","s":33,"v":0},{"g":"TNFRSF17","s":34,"v":-1},{"g":"TNFRSF17","s":35,"v":-1.8},{"g":"TNFRSF17","s":36,"v":-1.8},{"g":"TNFRSF17","s":37,"v":0.5},{"g":"TNFRSF17","s":38,"v":0},
{"g":"ZNF141","s":1,"v":-1.3},{"g":"ZNF141","s":2,"v":-0.5},{"g":"ZNF141","s":3,"v":3},{"g":"ZNF141","s":4,"v":1.5},{"g":"ZNF141","s":5,"v":1.5},{"g":"ZNF141","s":6,"v":0.6},{"g":"ZNF141","s":7,"v":1},{"g":"ZNF141","s":8,"v":0.6},{"g":"ZNF141","s":9,"v":1.5},{"g":"ZNF141","s":10,"v":1.5},{"g":"ZNF141","s":11,"v":1.5},{"g":"ZNF141","s":12,"v":-1},{"g":"ZNF141","s":13,"v":1},{"g":"ZNF141","s":14,"v":-0.3},{"g":"ZNF141","s":15,"v":0},{"g":"ZNF141","s":16,"v":0},{"g":"ZNF141","s":17,"v":0.4},{"g":"ZNF141","s":18,"v":-0.3},{"g":"ZNF141","s":19,"v":-0.3},{"g":"ZNF141","s":20,"v":-0.5},{"g":"ZNF141","s":21,"v":-2.5},{"g":"ZNF141","s":22,"v":-0.5},{"g":"ZNF141","s":23,"v":0},{"g":"ZNF141","s":24,"v":-0.8},{"g":"ZNF141","s":25,"v":-1},{"g":"ZNF141","s":26,"v":-1},{"g":"ZNF141","s":27,"v":-1},{"g":"ZNF141","s":28,"v":-0.5},{"g":"ZNF141","s":29,"v":1.5},{"g":"ZNF141","s":30,"v":1},{"g":"ZNF141","s":31,"v":-1},{"g":"ZNF141","s":32,"v":-0.5},{"g":"ZNF141","s":33,"v":0},{"g":"ZNF141","s":34,"v":-1},{"g":"ZNF141","s":35,"v":-2},{"g":"ZNF141","s":36,"v":-1.5},{"g":"ZNF141","s":37,"v":0.5},{"g":"ZNF141","s":38,"v":1},
{"g":"SH3BP5","s":1,"v":-0.5},{"g":"SH3BP5","s":2,"v":-0.8},{"g":"SH3BP5","s":3,"v":0.4},{"g":"SH3BP5","s":4,"v":-0.5},{"g":"SH3BP5","s":5,"v":1.8},{"g":"SH3BP5","s":6,"v":1},{"g":"SH3BP5","s":7,"v":1},{"g":"SH3BP5","s":8,"v":2.8},{"g":"SH3BP5","s":9,"v":1},{"g":"SH3BP5","s":10,"v":-1.8},{"g":"SH3BP5","s":11,"v":1},{"g":"SH3BP5","s":12,"v":-0.5},{"g":"SH3BP5","s":13,"v":1.5},{"g":"SH3BP5","s":14,"v":2.5},{"g":"SH3BP5","s":15,"v":2.5},{"g":"SH3BP5","s":16,"v":2.5},{"g":"SH3BP5","s":17,"v":-0.5},{"g":"SH3BP5","s":18,"v":0.5},{"g":"SH3BP5","s":19,"v":1},{"g":"SH3BP5","s":20,"v":-1},{"g":"SH3BP5","s":21,"v":-1},{"g":"SH3BP5","s":22,"v":0},{"g":"SH3BP5","s":23,"v":-1},{"g":"SH3BP5","s":24,"v":-0.8},{"g":"SH3BP5","s":25,"v":-0.5},{"g":"SH3BP5","s":26,"v":-1.5},{"g":"SH3BP5","s":27,"v":-0.5},{"g":"SH3BP5","s":28,"v":-2.3},{"g":"SH3BP5","s":29,"v":0.5},{"g":"SH3BP5","s":30,"v":-1},{"g":"SH3BP5","s":31,"v":0.5},{"g":"SH3BP5","s":32,"v":1.5},{"g":"SH3BP5","s":33,"v":-1.5},{"g":"SH3BP5","s":34,"v":-1},{"g":"SH3BP5","s":35,"v":-1.5},{"g":"SH3BP5","s":36,"v":-0.5},{"g":"SH3BP5","s":37,"v":-1.3},{"g":"SH3BP5","s":38,"v":-0.5},
{"g":"CARD11","s":1,"v":0.5},{"g":"CARD11","s":2,"v":-0.8},{"g":"CARD11","s":3,"v":0},{"g":"CARD11","s":4,"v":0.4},{"g":"CARD11","s":5,"v":0.5},{"g":"CARD11","s":6,"v":1.3},{"g":"CARD11","s":7,"v":-0.5},{"g":"CARD11","s":8,"v":2.5},{"g":"CARD11","s":9,"v":1},{"g":"CARD11","s":10,"v":1.5},{"g":"CARD11","s":11,"v":-0.8},{"g":"CARD11","s":12,"v":2.8},{"g":"CARD11","s":13,"v":1.5},{"g":"CARD11","s":14,"v":0.6},{"g":"CARD11","s":15,"v":1.8},{"g":"CARD11","s":16,"v":1.5},{"g":"CARD11","s":17,"v":0.5},{"g":"CARD11","s":18,"v":1},{"g":"CARD11","s":19,"v":1},{"g":"CARD11","s":20,"v":0.5},{"g":"CARD11","s":21,"v":-0.3},{"g":"CARD11","s":22,"v":-2.5},{"g":"CARD11","s":23,"v":0.5},{"g":"CARD11","s":24,"v":-1},{"g":"CARD11","s":25,"v":-1},{"g":"CARD11","s":26,"v":-1},{"g":"CARD11","s":27,"v":-1},{"g":"CARD11","s":28,"v":-1.5},{"g":"CARD11","s":29,"v":-0.5},{"g":"CARD11","s":30,"v":-1},{"g":"CARD11","s":31,"v":0.6},{"g":"CARD11","s":32,"v":-2.3},{"g":"CARD11","s":33,"v":-2.3},{"g":"CARD11","s":34,"v":-1.5},{"g":"CARD11","s":35,"v":-1.5},{"g":"CARD11","s":36,"v":-2},{"g":"CARD11","s":37,"v":-0.5},{"g":"CARD11","s":38,"v":-1},
{"g":"ITGAE","s":1,"v":-1.2},{"g":"ITGAE","s":2,"v":-1.2},{"g":"ITGAE","s":3,"v":-1.2},{"g":"ITGAE","s":4,"v":1},{"g":"ITGAE","s":5,"v":1},{"g":"ITGAE","s":6,"v":0},{"g":"ITGAE","s":7,"v":1.8},{"g":"ITGAE","s":8,"v":2.5},{"g":"ITGAE","s":9,"v":1},{"g":"ITGAE","s":10,"v":2.5},{"g":"ITGAE","s":11,"v":0.6},{"g":"ITGAE","s":12,"v":0.6},{"g":"ITGAE","s":13,"v":1.2},{"g":"ITGAE","s":14,"v":-1},{"g":"ITGAE","s":15,"v":1.8},{"g":"ITGAE","s":16,"v":1},{"g":"ITGAE","s":17,"v":0},{"g":"ITGAE","s":18,"v":-1.8},{"g":"ITGAE","s":19,"v":-1.5},{"g":"ITGAE","s":20,"v":1.5},{"g":"ITGAE","s":21,"v":1},{"g":"ITGAE","s":22,"v":0.5},{"g":"ITGAE","s":23,"v":-1},{"g":"ITGAE","s":24,"v":-1},{"g":"ITGAE","s":25,"v":-0.5},{"g":"ITGAE","s":26,"v":-1},{"g":"ITGAE","s":27,"v":0},{"g":"ITGAE","s":28,"v":-1},{"g":"ITGAE","s":29,"v":-1},{"g":"ITGAE","s":30,"v":-0.5},{"g":"ITGAE","s":31,"v":-1.5},{"g":"ITGAE","s":32,"v":-2.3},{"g":"ITGAE","s":33,"v":-1.5},{"g":"ITGAE","s":34,"v":-1},{"g":"ITGAE","s":35,"v":-1.8},{"g":"ITGAE","s":36,"v":-1.5},{"g":"ITGAE","s":37,"v":1},{"g":"ITGAE","s":38,"v":-0.5},
{"g":"TCL1A","s":1,"v":0.6},{"g":"TCL1A","s":2,"v":0.6},{"g":"TCL1A","s":3,"v":-1.8},{"g":"TCL1A","s":4,"v":-1.2},{"g":"TCL1A","s":5,"v":-0.5},{"g":"TCL1A","s":6,"v":0.4},{"g":"TCL1A","s":7,"v":1},{"g":"TCL1A","s":8,"v":0},{"g":"TCL1A","s":9,"v":1.8},{"g":"TCL1A","s":10,"v":2.3},{"g":"TCL1A","s":11,"v":2},{"g":"TCL1A","s":12,"v":1.5},{"g":"TCL1A","s":13,"v":1.8},{"g":"TCL1A","s":14,"v":1},{"g":"TCL1A","s":15,"v":2.3},{"g":"TCL1A","s":16,"v":0},{"g":"TCL1A","s":17,"v":1.5},{"g":"TCL1A","s":18,"v":1},{"g":"TCL1A","s":19,"v":1.5},{"g":"TCL1A","s":20,"v":1.8},{"g":"TCL1A","s":21,"v":2.2},{"g":"TCL1A","s":22,"v":-2.5},{"g":"TCL1A","s":23,"v":-2.3},{"g":"TCL1A","s":24,"v":-2},{"g":"TCL1A","s":25,"v":0.5},{"g":"TCL1A","s":26,"v":-1.3},{"g":"TCL1A","s":27,"v":-1},{"g":"TCL1A","s":28,"v":-0.5},{"g":"TCL1A","s":29,"v":0.5},{"g":"TCL1A","s":30,"v":-2},{"g":"TCL1A","s":31,"v":-1.5},{"g":"TCL1A","s":32,"v":-1.5},{"g":"TCL1A","s":33,"v":-1},{"g":"TCL1A","s":34,"v":-1.8},{"g":"TCL1A","s":35,"v":-2},{"g":"TCL1A","s":36,"v":-0.5},{"g":"TCL1A","s":37,"v":-2.5},{"g":"TCL1A","s":38,"v":0.5},
{"g":"E2F2","s":1,"v":0},{"g":"E2F2","s":2,"v":-0.5},{"g":"E2F2","s":3,"v":2},{"g":"E2F2","s":4,"v":-1},{"g":"E2F2","s":5,"v":-0.5},{"g":"E2F2","s":6,"v":0.5},{"g":"E2F2","s":7,"v":-1},{"g":"E2F2","s":8,"v":0.5},{"g":"E2F2","s":9,"v":2.3},{"g":"E2F2","s":10,"v":2.7},{"g":"E2F2","s":11,"v":1},{"g":"E2F2","s":12,"v":-0.8},{"g":"E2F2","s":13,"v":0},{"g":"E2F2","s":14,"v":1.8},{"g":"E2F2","s":15,"v":2.8},{"g":"E2F2","s":16,"v":1.5},{"g":"E2F2","s":17,"v":2},{"g":"E2F2","s":18,"v":-0.5},{"g":"E2F2","s":19,"v":-1},{"g":"E2F2","s":20,"v":2},{"g":"E2F2","s":21,"v":2},{"g":"E2F2","s":22,"v":1.5},{"g":"E2F2","s":23,"v":-0.8},{"g":"E2F2","s":24,"v":0.5},{"g":"E2F2","s":25,"v":-0.3},{"g":"E2F2","s":26,"v":0},{"g":"E2F2","s":27,"v":-1},{"g":"E2F2","s":28,"v":-0.5},{"g":"E2F2","s":29,"v":-2},{"g":"E2F2","s":30,"v":-1.5},{"g":"E2F2","s":31,"v":-0.5},{"g":"E2F2","s":32,"v":-1},{"g":"E2F2","s":33,"v":-2},{"g":"E2F2","s":34,"v":-1},{"g":"E2F2","s":35,"v":-2},{"g":"E2F2","s":36,"v":-2},{"g":"E2F2","s":37,"v":-1},{"g":"E2F2","s":38,"v":0.5},
{"g":"SPINT2","s":1,"v":-2.8},{"g":"SPINT2","s":2,"v":-0.5},{"g":"SPINT2","s":3,"v":-0.5},{"g":"SPINT2","s":4,"v":-1},{"g":"SPINT2","s":5,"v":1.8},{"g":"SPINT2","s":6,"v":2.2},{"g":"SPINT2","s":7,"v":1},{"g":"SPINT2","s":8,"v":1.8},{"g":"SPINT2","s":9,"v":2.5},{"g":"SPINT2","s":10,"v":-1},{"g":"SPINT2","s":11,"v":0.6},{"g":"SPINT2","s":12,"v":-2.3},{"g":"SPINT2","s":13,"v":-1.8},{"g":"SPINT2","s":14,"v":2.3},{"g":"SPINT2","s":15,"v":1.5},{"g":"SPINT2","s":16,"v":1},{"g":"SPINT2","s":17,"v":-0.5},{"g":"SPINT2","s":18,"v":2.3},{"g":"SPINT2","s":19,"v":2.5},{"g":"SPINT2","s":20,"v":-0.5},{"g":"SPINT2","s":21,"v":-1.3},{"g":"SPINT2","s":22,"v":-0.5},{"g":"SPINT2","s":23,"v":0.5},{"g":"SPINT2","s":24,"v":-2.5},{"g":"SPINT2","s":25,"v":-0.5},{"g":"SPINT2","s":26,"v":-0.8},{"g":"SPINT2","s":27,"v":0.5},{"g":"SPINT2","s":28,"v":0},{"g":"SPINT2","s":29,"v":0.5},{"g":"SPINT2","s":30,"v":0.5},{"g":"SPINT2","s":31,"v":-0.5},{"g":"SPINT2","s":32,"v":-1},{"g":"SPINT2","s":33,"v":0},{"g":"SPINT2","s":34,"v":0},{"g":"SPINT2","s":35,"v":-0.5},{"g":"SPINT2","s":36,"v":0},{"g":"SPINT2","s":37,"v":0.8},{"g":"SPINT2","s":38,"v":-1.8}
]
},
"layer":[
{"data":{"name":"dendro"},"mark":{"type":"rule","color":"#6b6b6b","strokeWidth":1.2},
 "encoding":{"x":{"field":"pos","type":"quantitative","scale":{"domain":[0,38],"range":[73.3,615.3],"nice":false,"zero":false},"axis":null},
 "y":{"field":"ht","type":"quantitative","scale":{"domain":[0,73],"range":[85,12],"nice":false,"zero":false},"axis":null},
 "y2":{"field":"pht"}}},
{"data":{"name":"dendro"},"mark":{"type":"rule","color":"#6b6b6b","strokeWidth":1.2},
 "encoding":{"x":{"field":"pos","type":"quantitative","scale":{"domain":[0,38],"range":[73.3,615.3],"nice":false,"zero":false},"axis":null},
 "x2":{"field":"ppos"},
 "y":{"field":"pht","type":"quantitative","scale":{"domain":[0,73],"range":[85,12],"nice":false,"zero":false},"axis":null}}},
{"data":{"values":[{"t":"Hierarchical Clustering"}]},"mark":{"type":"text","font":"Liberation Sans Narrow, Liberation Sans","fontSize":8.5,"color":"#333333","align":"center","baseline":"middle"},
 "encoding":{"text":{"field":"t"},
 "x":{"datum":19.05,"type":"quantitative","scale":{"domain":[0,38],"range":[73.3,615.3],"nice":false,"zero":false},"axis":null},
 "y":{"datum":79,"type":"quantitative","scale":{"domain":[0,73],"range":[85,12],"nice":false,"zero":false},"axis":null}}},
{"data":{"values":[{"t":"A."}]},"mark":{"type":"text","fontSize":19,"fontWeight":"bold","color":"#000000","align":"left","baseline":"alphabetic"},
 "encoding":{"text":{"field":"t"},
 "x":{"datum":-5.0,"type":"quantitative","scale":{"domain":[0,38],"range":[73.3,615.3],"nice":false,"zero":false},"axis":null},
 "y":{"datum":23.5,"type":"quantitative","scale":{"domain":[0,73],"range":[85,12],"nice":false,"zero":false},"axis":null}}},
{"data":{"name":"status"},"mark":{"type":"rect"},
 "encoding":{"x":{"field":"s","type":"ordinal","scale":{"range":[73.3,615.3],"paddingInner":0,"paddingOuter":0},"axis":null},
 "y":{"datum":0,"type":"quantitative","scale":{"domain":[0,1],"range":[90.7,85.3],"nice":false,"zero":false},"axis":null},
 "y2":{"datum":1},
 "color":{"field":"st","type":"nominal","scale":{"domain":["Gain","Amplification","No Gain","ID"],"range":["#0b0b7e","#19ea4b","#8b9797","#ffffff"]},
  "legend":{"orient":"none","legendX":89,"legendY":392,"direction":"horizontal","columns":4,"title":"9p24.1 Status","titleOrient":"left","titleFontSize":9,"titleFontWeight":"normal","titleColor":"#333333","titlePadding":12,"labelFontSize":9,"labelColor":"#333333","symbolType":"square","symbolSize":40,"symbolStrokeWidth":0,"columnPadding":15,"labelOffset":4}}}},
{"data":{"name":"heat"},"mark":{"type":"rect"},
 "encoding":{"x":{"field":"s","type":"ordinal","scale":{"range":[73.3,615.3],"paddingInner":0,"paddingOuter":0},"axis":null},
 "y":{"field":"g","type":"ordinal","scale":{"domain":["TRAF1","NFKB2","LY75","FAS","IL13RA1","ITGAM","IL4I1","SAMSN1","MAL","TNFRSF8","BATF3","PDCD1LG2","JAK2","IL23A","BST2","CDKN1A","TLR7","FGFR1","FNBP1","TNFSF4","MEF2A","PFDN5","DLEU1","TNFRSF17","ZNF141","SH3BP5","CARD11","ITGAE","TCL1A","E2F2","SPINT2"],"range":[96.7,386.7],"paddingInner":0,"paddingOuter":0},
  "axis":{"orient":"left","offset":-39,"labelAlign":"center","labelPadding":0,"ticks":false,"tickSize":0,"domain":false,"title":null,"labelFont":"Liberation Sans Narrow, Liberation Sans","labelFontSize":8.5,"labelColor":"#333333"}},
 "color":{"field":"v","type":"quantitative","scale":{"domain":[-3,0,3],"range":["#0000ff","#ffffff","#ff0000"],"interpolate":"rgb"},"legend":null}}},
{"data":{"name":"cbar"},"mark":{"type":"rect"},
 "encoding":{"x":{"field":"lo","type":"quantitative","scale":{"domain":[-3,3],"range":[73.3,615.3],"nice":false,"zero":false},
  "axis":{"orient":"bottom","offset":-246.3,"values":[-3,0,3],"labelFlush":true,"labelExpr":"(datum.value < 0 ? '-' : '') + format(abs(datum.value), '.2f')","domain":false,"ticks":false,"tickSize":0,"labelPadding":2,"labelFontSize":9,"labelColor":"#333333","title":null}},
 "x2":{"field":"hi"},
 "y":{"datum":0,"type":"quantitative","scale":{"domain":[0,1],"range":[408.7,404],"nice":false,"zero":false},"axis":null},
 "y2":{"datum":1},
 "color":{"field":"lev","type":"quantitative","scale":{"domain":[-3,0,3],"range":["#1010c8","#ffffff","#cc0a0a"],"interpolate":"rgb"},"legend":null}}},
{"data":{"name":"coo"},"mark":{"type":"rect"},
 "encoding":{"x":{"field":"gene","type":"nominal","scale":{"domain":["COO","TP53","BTG2","CD79B","MYD88","SOCS1","BTG1","CREBBP","EZH2","MLL2","PIM1","SGK1","TNFAIP3","BCL2","BIRC6","CARD11","CD58","DUSP2","S1PR2","SETD1B","ACTB","SETD2","ATR","B2M","BTK","CBLB","CCND3","CD70","CDC73","DCAF6","DICER1","DNMT3A","DTX1","EBF1","FUBP1","HIST1H1E","HIST1H2BC","INO80","IRF8","JAK1","JUNB","MARK1","MTOR","NF1","NFKB2","NFKBIE","NOTCH2","PHF6","PIM2","POU2F2","PTEN","PTPRK","SPEN","TAF1","TBL1XR1","TMEM30A","TMSB4X","TOX","UBR5","XPO1","ZNF292"],"range":[13.3,658.3],"paddingInner":0,"paddingOuter":0},"axis":null},
 "y":{"field":"id","type":"nominal","scale":{"domain":["A1","A2","A3","A4","G1","G2","G3","G4","G5","G6","G7","G8","G9","G10"],"range":[438.3,596],"paddingInner":0,"paddingOuter":0},"axis":null},
 "color":{"field":"coo","type":"nominal","scale":{"domain":["GCB","ABC","Unclassified","NA"],"range":["#0a10f2","#14891a","#ffca2c","#ffffff"]},"legend":null}}},
{"data":{"name":"coo"},"transform":[{"filter":"datum.coo == 'NA'"}],"mark":{"type":"text","fontSize":4.5,"color":"#333333","align":"center","baseline":"middle","dx":-1},
 "encoding":{"text":{"field":"coo"},
 "x":{"field":"gene","type":"nominal","scale":{"domain":["COO","TP53","BTG2","CD79B","MYD88","SOCS1","BTG1","CREBBP","EZH2","MLL2","PIM1","SGK1","TNFAIP3","BCL2","BIRC6","CARD11","CD58","DUSP2","S1PR2","SETD1B","ACTB","SETD2","ATR","B2M","BTK","CBLB","CCND3","CD70","CDC73","DCAF6","DICER1","DNMT3A","DTX1","EBF1","FUBP1","HIST1H1E","HIST1H2BC","INO80","IRF8","JAK1","JUNB","MARK1","MTOR","NF1","NFKB2","NFKBIE","NOTCH2","PHF6","PIM2","POU2F2","PTEN","PTPRK","SPEN","TAF1","TBL1XR1","TMEM30A","TMSB4X","TOX","UBR5","XPO1","ZNF292"],"range":[13.3,658.3],"paddingInner":0,"paddingOuter":0},"axis":null},
 "y":{"field":"id","type":"nominal","scale":{"domain":["A1","A2","A3","A4","G1","G2","G3","G4","G5","G6","G7","G8","G9","G10"],"range":[438.3,596],"paddingInner":0,"paddingOuter":0},"axis":null}}},
{"data":{"name":"mut"},"mark":{"type":"rect","color":"#ff0000"},
 "encoding":{"x":{"field":"gene","type":"nominal","scale":{"domain":["COO","TP53","BTG2","CD79B","MYD88","SOCS1","BTG1","CREBBP","EZH2","MLL2","PIM1","SGK1","TNFAIP3","BCL2","BIRC6","CARD11","CD58","DUSP2","S1PR2","SETD1B","ACTB","SETD2","ATR","B2M","BTK","CBLB","CCND3","CD70","CDC73","DCAF6","DICER1","DNMT3A","DTX1","EBF1","FUBP1","HIST1H1E","HIST1H2BC","INO80","IRF8","JAK1","JUNB","MARK1","MTOR","NF1","NFKB2","NFKBIE","NOTCH2","PHF6","PIM2","POU2F2","PTEN","PTPRK","SPEN","TAF1","TBL1XR1","TMEM30A","TMSB4X","TOX","UBR5","XPO1","ZNF292"],"range":[13.3,658.3],"paddingInner":0,"paddingOuter":0},
  "axis":{"orient":"bottom","offset":-59,"labelAngle":-76,"labelFontStyle":"italic","labelFontSize":9.5,"labelColor":"#000000","labelPadding":3,"ticks":false,"tickSize":0,"domain":true,"domainColor":"#444444","domainWidth":1.5,"title":null}},
 "y":{"field":"id","type":"nominal","scale":{"domain":["A1","A2","A3","A4","G1","G2","G3","G4","G5","G6","G7","G8","G9","G10"],"range":[438.3,596],"paddingInner":0,"paddingOuter":0},
  "axis":{"orient":"left","offset":-13.3,"labelExpr":"substring(datum.label, 0, 1)","ticks":false,"tickSize":0,"domain":false,"labelPadding":2.5,"labelFontSize":10.5,"labelColor":"#000000","title":null}}}},
{"data":{"values":[{}]},"mark":{"type":"rect","filled":false,"stroke":"#666666","strokeWidth":1},
 "encoding":{"x":{"datum":0,"type":"quantitative","scale":{"domain":[0,61],"range":[13.3,658.3],"nice":false,"zero":false},"axis":null},
 "x2":{"datum":61},
 "y":{"datum":0,"type":"quantitative","scale":{"domain":[0,14],"range":[438.3,596],"nice":false,"zero":false},"axis":null},
 "y2":{"datum":14}}},
{"data":{"values":[{}]},"mark":{"type":"rule","color":"#666666","strokeWidth":1},
 "encoding":{"x":{"datum":1,"type":"quantitative","scale":{"domain":[0,61],"range":[13.3,658.3],"nice":false,"zero":false},"axis":null},
 "x2":{"datum":61},
 "y":{"datum":4,"type":"quantitative","scale":{"domain":[0,14],"range":[438.3,596],"nice":false,"zero":false},"axis":null}}},
{"data":{"values":[{"t":"B."}]},"mark":{"type":"text","fontSize":19,"fontWeight":"bold","color":"#000000","align":"left","baseline":"alphabetic"},
 "encoding":{"text":{"field":"t"},
 "x":{"datum":-1.16,"type":"quantitative","scale":{"domain":[0,61],"range":[13.3,658.3],"nice":false,"zero":false},"axis":null},
 "y":{"datum":-0.89,"type":"quantitative","scale":{"domain":[0,14],"range":[438.3,596],"nice":false,"zero":false},"axis":null}}},
{"data":{"name":"mut"},"mark":{"type":"bar","color":"#ffc20e"},
 "encoding":{"y":{"field":"id","type":"nominal","scale":{"domain":["A1","A2","A3","A4","G1","G2","G3","G4","G5","G6","G7","G8","G9","G10"],"range":[438.3,596],"paddingInner":0.36,"paddingOuter":0.18},
  "axis":{"orient":"left","offset":-665.3,"labels":false,"ticks":true,"tickSize":4,"tickColor":"#000000","domain":true,"domainColor":"#000000","title":null}},
 "x":{"aggregate":"count","type":"quantitative","scale":{"domain":[0,15],"range":[665.3,786],"nice":false,"zero":true},
  "axis":{"orient":"bottom","offset":-59,"values":[0,5,10,15],"labelFontWeight":"bold","labelFontSize":9.5,"labelColor":"#000000","tickSize":4,"tickColor":"#000000","domainColor":"#000000","labelPadding":1,"title":["Number of Genes","with a Mutation"],"titleFontSize":12.5,"titleFontWeight":"bold","titleColor":"#000000","titlePadding":3,"titleLineHeight":13}}}}
]
}
